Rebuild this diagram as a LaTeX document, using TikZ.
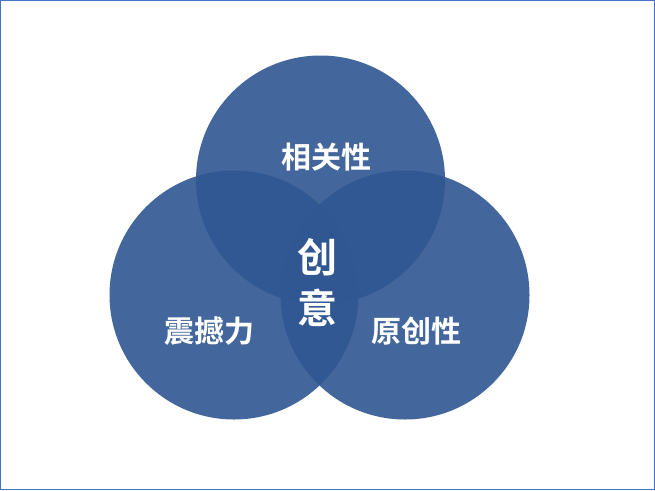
\documentclass[tikz,border=0pt]{standalone}
\usepackage{fontspec}
\newfontfamily\cjk{Noto Sans CJK SC}[BoldFont={Noto Sans CJK SC Bold}]
\definecolor{ringblue}{RGB}{49,87,147}
\definecolor{frameblue}{RGB}{68,114,196}
\tikzset{
  ring/.style={fill=ringblue,fill opacity=0.91,draw=none},
  tag/.style={text=white,font=\cjk\bfseries\fontsize{30}{30}\selectfont,inner sep=0pt},
}
\begin{document}
\begin{tikzpicture}[x=1pt,y=-1pt]
\draw[frameblue,line width=1.2pt,fill=white] (0.6,0.6) rectangle (654.4,489.4);

\fill[ring] (320.5,180) circle (124.5);
\fill[ring] (234,295) circle (124.5);
\fill[ring] (405,295) circle (124.5);

\node[tag] (relevance) at (326,157) {相关性};
\node[tag] (impact) at (209,331) {震撼力};
\node[tag] (originality) at (416,331) {原创性};
\node[tag,font=\cjk\bfseries\fontsize{40}{51}\selectfont,align=center] (idea) at (317,283) {创\\意};
\end{tikzpicture}
\end{document}
